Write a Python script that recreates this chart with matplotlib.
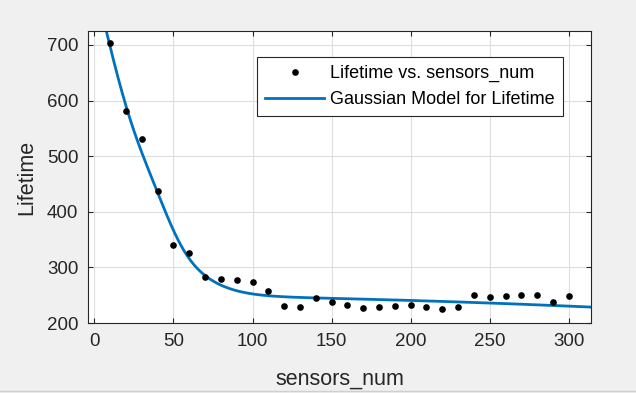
import numpy as np
import matplotlib
matplotlib.use("Agg")
import matplotlib.pyplot as plt
from matplotlib.lines import Line2D

# Data points
sensors_num = np.arange(10, 301, 10)
lifetime = [703, 582, 530, 438, 340, 325, 283, 280, 277, 274,
            258, 231, 229, 245, 237, 233, 227, 229, 231, 233,
            229, 226, 228, 250, 247, 248, 251, 251, 238, 248]

# Gaussian model coefficients (a, b, c per term)
a1, b1, c1 = 25.2526, 38.02602, 16.27289
a2, b2, c2 = 892.8076, -42.41959, 62.96159
a3, b3, c3 = 249.0753, 0.0, 1072.376


def gauss_model(x):
    return (a1 * np.exp(-((x - b1) / c1) ** 2)
            + a2 * np.exp(-((x - b2) / c2) ** 2)
            + a3 * np.exp(-((x - b3) / c3) ** 2))


fig = plt.figure(figsize=(6.36, 3.93), dpi=100, facecolor="#f0f0f0")
ax = fig.add_axes([88 / 636, 1 - 323 / 393, 503 / 636, 292 / 393])

xs = np.linspace(-4, 314, 800)
ax.plot(sensors_num, lifetime, "o", color="black", ms=4.8, mec="none",
        label="Lifetime vs. sensors_num", zorder=3)
ax.plot(xs, gauss_model(xs), color="#0072BD", lw=2,
        label="Gaussian Model for Lifetime", zorder=2)

ax.set_xlim(-4, 314)
ax.set_ylim(200, 725)
ax.set_xticks(np.arange(0, 301, 50))
ax.set_yticks(np.arange(200, 701, 100))
ax.grid(True, color="#dedede", lw=0.8)
ax.set_axisbelow(True)
for s in ax.spines.values():
    s.set_color("#262626")
    s.set_linewidth(0.8)
ax.tick_params(direction="in", top=True, right=True, length=3.5, width=0.8,
               color="#262626", labelcolor="#262626", labelsize=13.5, pad=7)
for lab in ax.get_xticklabels() + ax.get_yticklabels():
    lab.set_family("Liberation Sans")

ax.set_xlabel("sensors_num", fontsize=15.5, color="#262626", family="Liberation Sans")
ax.set_ylabel("Lifetime", fontsize=15.5, color="#262626", family="Liberation Sans")
ax.xaxis.set_label_coords(0.5, -0.155)
ax.yaxis.set_label_coords(-0.1, 0.5)

leg = ax.legend(loc="upper right", bbox_to_anchor=((563 - 88) / 503, (323 - 57) / 292),
                borderaxespad=0, fancybox=False, framealpha=1, edgecolor="#262626",
                prop={"family": "Liberation Sans", "size": 13}, handlelength=3.3,
                handletextpad=0.33, borderpad=0.45, labelspacing=0.5)
leg.get_frame().set_linewidth(0.8)

fig.add_artist(Line2D([0, 1], [1 - 390.5 / 393] * 2, color="#cfcfcf", lw=1))
fig.savefig("out.png", dpi=100, facecolor=fig.get_facecolor())
